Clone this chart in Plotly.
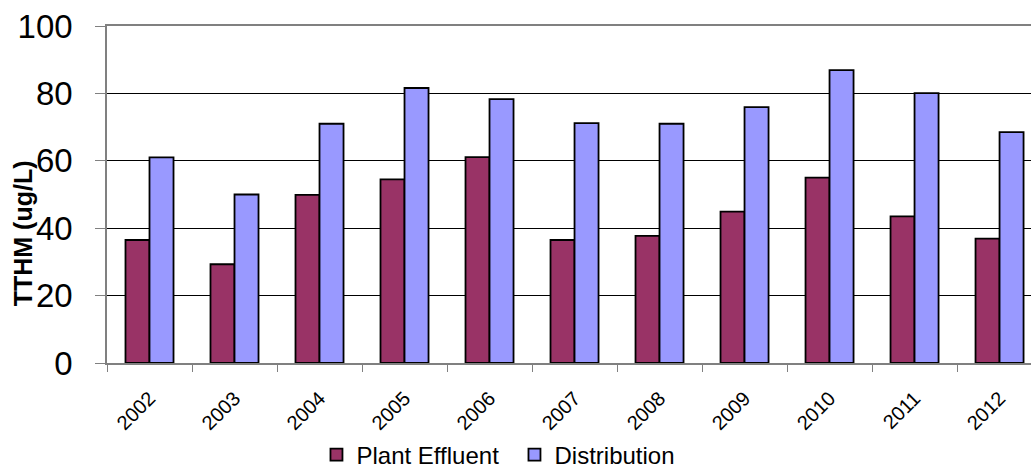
import plotly.graph_objects as go

years = ["2002", "2003", "2004", "2005", "2006", "2007", "2008", "2009", "2010", "2011", "2012"]
plant_effluent = [36.5, 29.3, 49.9, 54.5, 61.1, 36.5, 37.7, 44.9, 55.0, 43.5, 36.9]
distribution = [61.0, 50.0, 71.0, 81.6, 78.3, 71.2, 71.0, 75.9, 86.9, 80.1, 68.5]
y_ticks = [0, 20, 40, 60, 80, 100]

FONT = "Arial, Liberation Sans, sans-serif"

fig = go.Figure()
fig.add_trace(go.Bar(
    x=years, y=plant_effluent, name="Plant Effluent",
    marker=dict(color="#993366", line=dict(color="black", width=1.8)),
))
fig.add_trace(go.Bar(
    x=years, y=distribution, name="Distribution",
    marker=dict(color="#9999FF", line=dict(color="black", width=1.8)),
))

fig.update_layout(
    width=1031, height=468,
    margin=dict(l=107, r=0, t=26, b=105, autoexpand=False),
    paper_bgcolor="white", plot_bgcolor="white",
    barmode="group", bargap=0.435, bargroupgap=0,
    font=dict(family=FONT, color="black"),
    showlegend=True,
    legend=dict(
        orientation="h", xref="container", yref="container",
        x=0.499, xanchor="center", y=1 - 455 / 468, yanchor="middle",
        font=dict(size=24, family=FONT, color="black"),
        itemwidth=30, entrywidth=153, entrywidthmode="pixels",
    ),
    annotations=[dict(
        text="<b>TTHM (ug/L)</b>", textangle=-90,
        xref="paper", yref="paper", x=-0.0909, y=0.385,
        xanchor="center", yanchor="middle", showarrow=False,
        font=dict(size=25, family=FONT, color="black"),
    )],
)

fig.update_xaxes(
    type="category", range=[-0.5, 10.37], automargin=False,
    tickangle=-45, tickfont=dict(size=20, family=FONT, color="black"),
    ticks="outside", ticklen=7, tickcolor="#808080", tickson="boundaries",
    ticklabelstandoff=14,
    showline=True, linecolor="#808080", linewidth=1.5, mirror=True,
    showgrid=False,
)
fig.update_yaxes(
    range=[0, 100], tickvals=y_ticks, automargin=False,
    tickfont=dict(size=33, family=FONT, color="black"),
    ticks="outside", ticklen=10, tickcolor="#808080", ticklabelstandoff=16,
    showline=True, linecolor="#808080", linewidth=1.5,
    showgrid=True, gridcolor="black", gridwidth=1,
    zeroline=False,
)

fig.write_html("out.html")
